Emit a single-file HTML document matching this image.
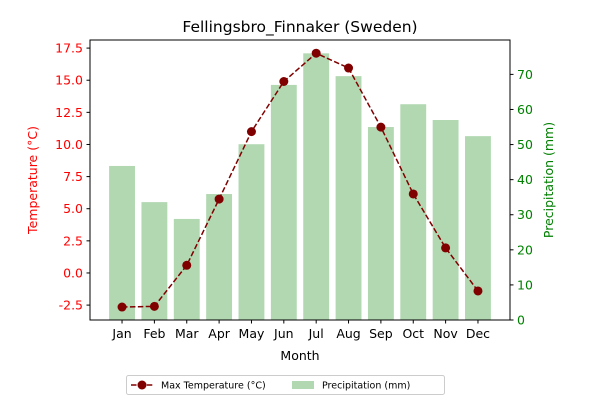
<!DOCTYPE html>
<html><head><meta charset="utf-8"><style>
body{margin:0;background:#fff;font-family:"DejaVu Sans","Liberation Sans",sans-serif;position:relative}
text{font-family:"DejaVu Sans","Liberation Sans",sans-serif}
</style></head><body>
<svg id="c" width="600" height="400" xmlns="http://www.w3.org/2000/svg"></svg>
<script>
const months=["Jan","Feb","Mar","Apr","May","Jun","Jul","Aug","Sep","Oct","Nov","Dec"];
const maxTemp=[-2.65,-2.6,0.6,5.75,11.0,14.9,17.1,15.95,11.35,6.15,1.95,-1.4];
const precip=[43.9,33.6,28.8,35.9,50.1,67,76,69.5,55,61.5,57,52.4];
const tempTicks=[-2.5,0,2.5,5,7.5,10,12.5,15,17.5];
const precipTicks=[0,10,20,30,40,50,60,70];
const L=90,R=510,T=40,B=320;
const xMin=-0.99,xMax=11.99,tMin=-3.66,tMax=18.13,pMin=0,pMax=79.8;
const x=i=>L+(i-xMin)/(xMax-xMin)*(R-L);
const yT=v=>B-(v-tMin)/(tMax-tMin)*(B-T);
const yP=v=>B-(v-pMin)/(pMax-pMin)*(B-T);
const svg=document.getElementById('c');
const NS="http://www.w3.org/2000/svg";
function mk(tag,attrs,parent){const e=document.createElementNS(NS,tag);for(const k in attrs)e.setAttribute(k,attrs[k]);(parent||svg).appendChild(e);return e;}
const bw=(R-L)/(xMax-xMin)*0.8;
precip.forEach((v,i)=>{
 const r=mk('rect',{x:x(i)-bw/2,y:yP(v),width:bw,height:B-yP(v),fill:'#b2d8b2'});
 
 
});
const pts=maxTemp.map((v,i)=>x(i)+','+yT(v)).join(' ');
const line=mk('polyline',{points:pts,fill:'none',stroke:'#800000','stroke-width':1.5,'stroke-dasharray':'5.5,2.4'});


maxTemp.forEach((v,i)=>{
 const c=mk('circle',{cx:x(i),cy:yT(v),r:4.5,fill:'#800000'});
 
 
});
const frame=mk('rect',{x:L,y:T,width:R-L,height:B-T,fill:'none',stroke:'#000','stroke-width':1});


months.forEach((m,i)=>{
 mk('line',{x1:x(i),x2:x(i),y1:B,y2:B+3.5,stroke:'#000'});
 const t=mk('text',{x:x(i),y:B+18,'text-anchor':'middle','font-size':12.5,fill:'#000'});t.textContent=m;
 
 
});
tempTicks.forEach(v=>{
 mk('line',{x1:L-3.5,x2:L,y1:yT(v),y2:yT(v),stroke:'#000'});
 const t=mk('text',{x:L-7,y:yT(v)+4.5,'text-anchor':'end','font-size':12.5,fill:'red'});t.textContent=v.toFixed(1);
 
 
});
precipTicks.forEach(v=>{
 mk('line',{x1:R,x2:R+3.5,y1:yP(v),y2:yP(v),stroke:'#000'});
 const t=mk('text',{x:R+7,y:yP(v)+4.5,'font-size':12.5,fill:'green'});t.textContent=v;
 
 
});
</script>
<svg width="600" height="400" style="position:absolute;left:0;top:0" xmlns="http://www.w3.org/2000/svg">
<text x="300" y="32" text-anchor="middle" font-size="15.5">Fellingsbro_Finnaker (Sweden)</text>
<text x="300" y="360" text-anchor="middle" font-size="12.5">Month</text>
<text transform="translate(37,180) rotate(-90)" text-anchor="middle" font-size="12.5" fill="red">Temperature (°C)</text>
<text transform="translate(553,180) rotate(-90)" text-anchor="middle" font-size="12.5" fill="green">Precipitation (mm)</text>
<g>
<rect x="126.5" y="375.5" width="318" height="19" rx="2" fill="#fff" stroke="#ccc"/>
<line x1="131" x2="153" y1="385" y2="385" stroke="#800000" stroke-width="1.5" stroke-dasharray="5.5,2.4"/>
<circle cx="142" cy="385" r="4.5" fill="#800000"/>
<text x="161" y="388.5" font-size="9.5">Max Temperature (°C)</text>
<rect x="292" y="381" width="22" height="8" fill="#b2d8b2"/>
<text x="322" y="388.5" font-size="9.5">Precipitation (mm)</text>
</g>
</svg>
</body></html>
